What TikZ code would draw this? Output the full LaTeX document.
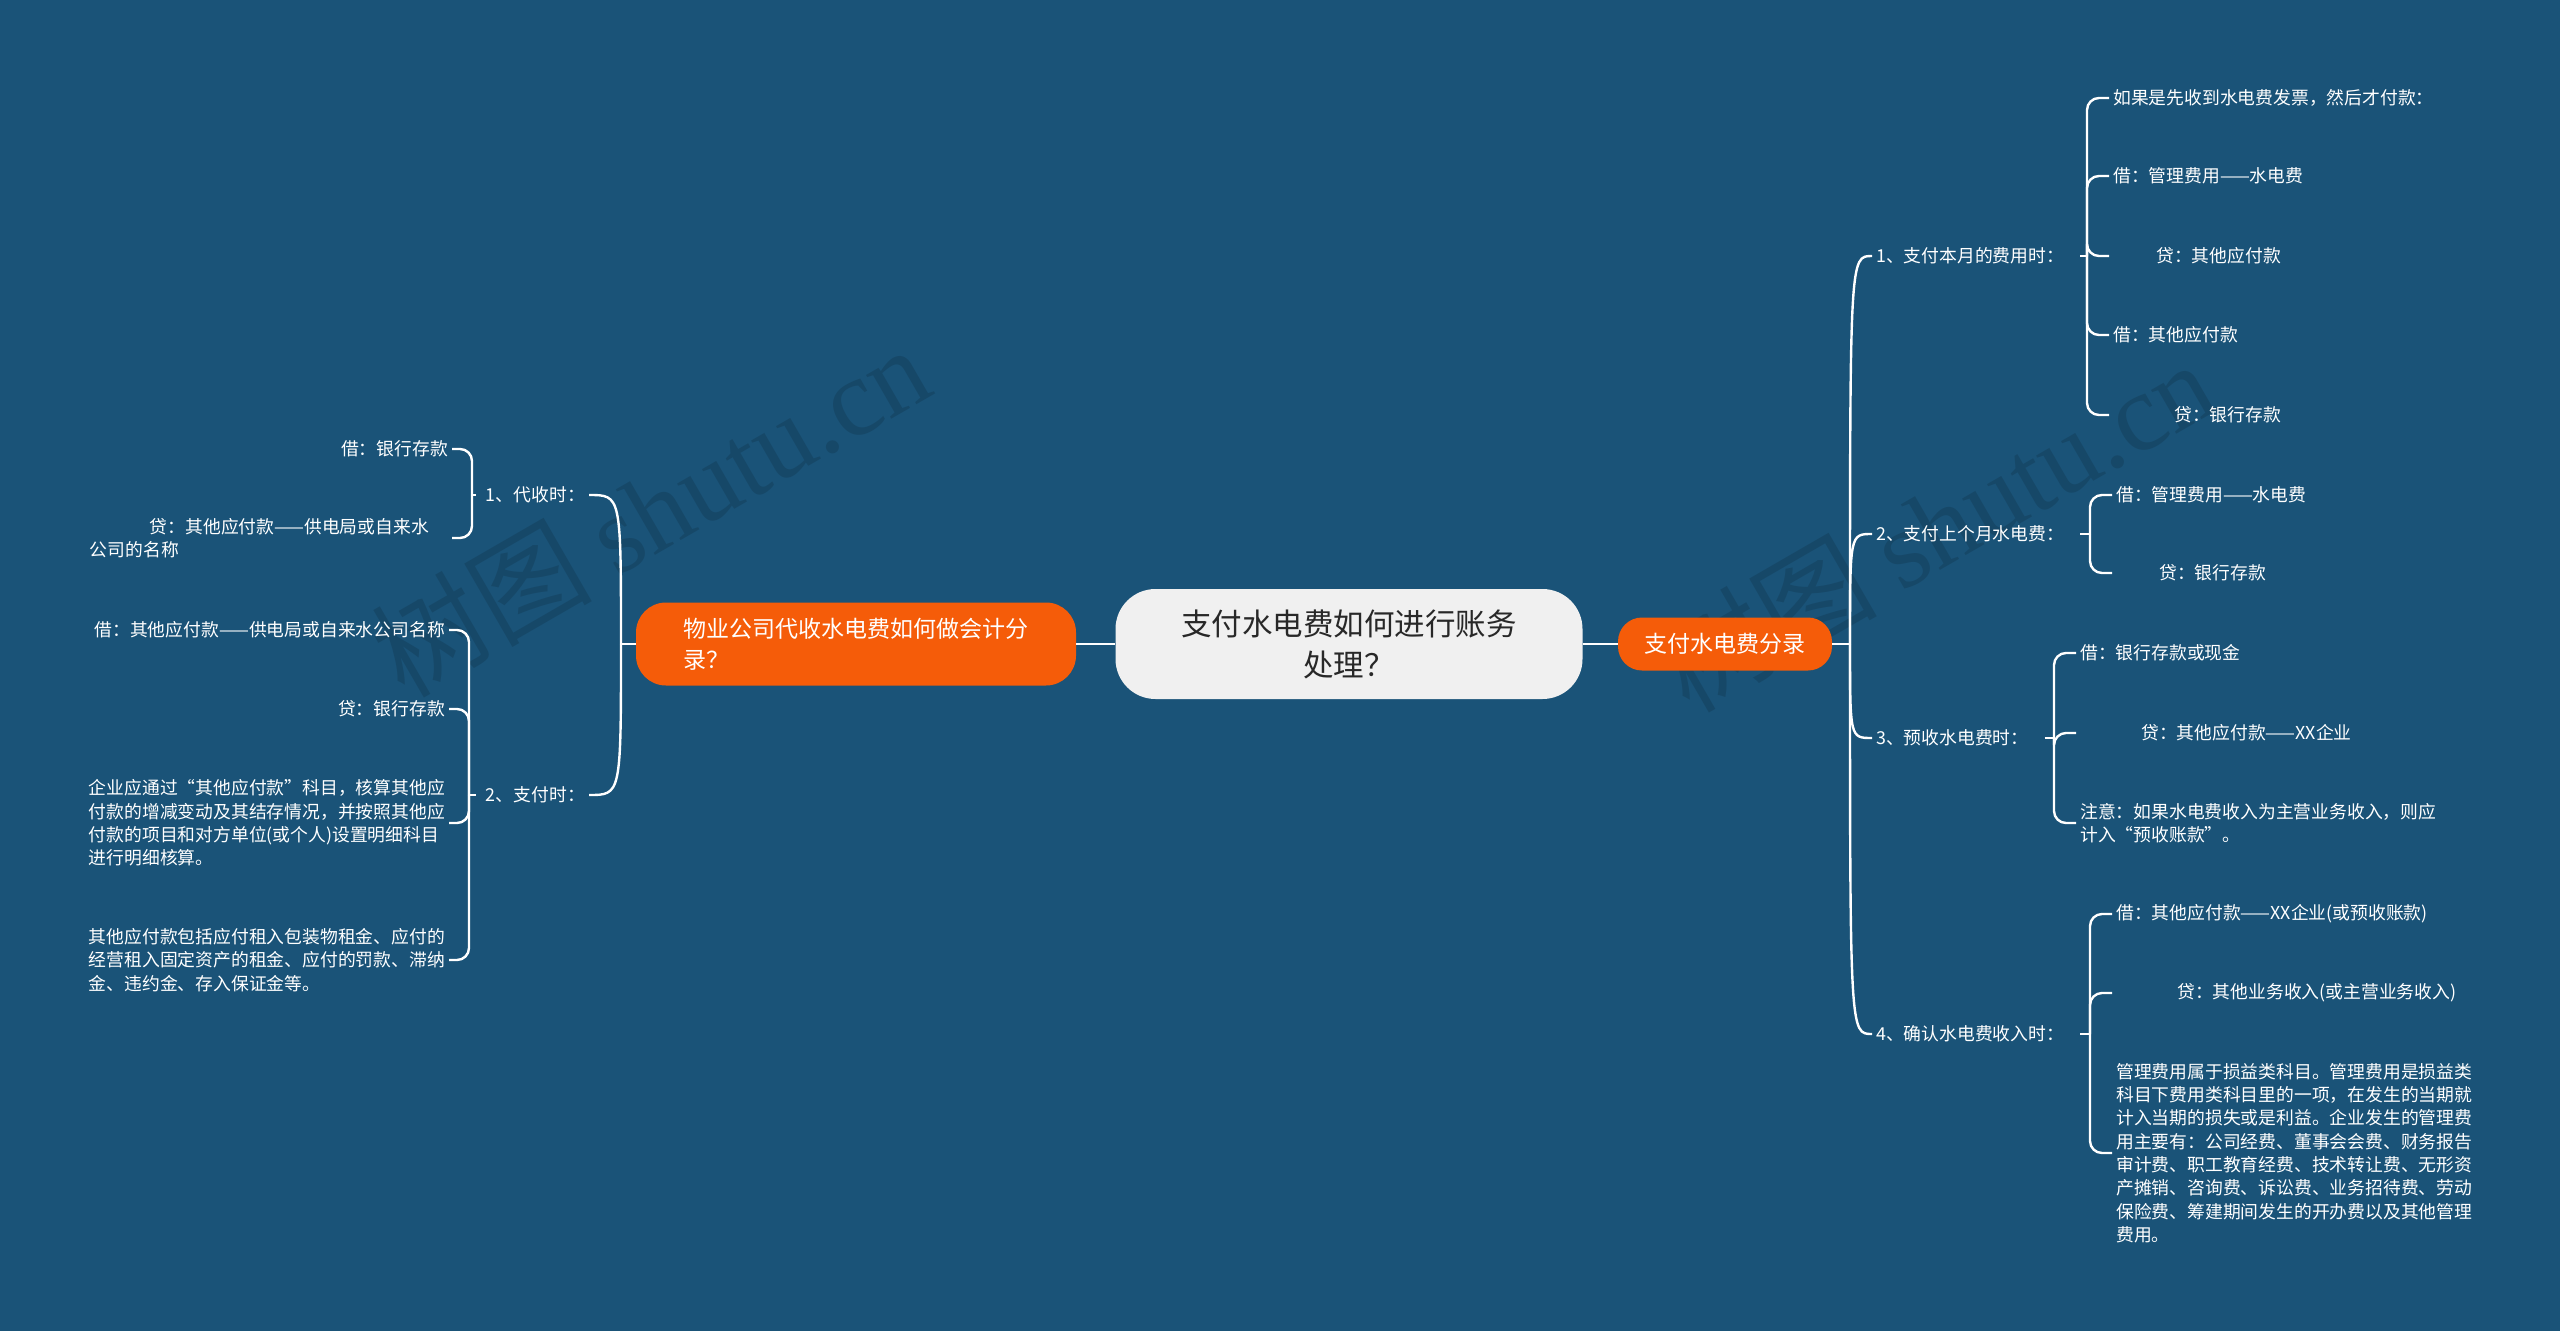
\documentclass[tikz,border=0pt]{standalone}
\usepackage{fontspec}
\setmainfont{Noto Sans CJK SC}
\newfontfamily\markfont{Liberation Serif}
\usetikzlibrary{positioning}
\definecolor{bgblue}{RGB}{26,83,120}
\definecolor{topicorange}{RGB}{245,92,9}
\definecolor{rootgray}{RGB}{240,240,240}
\definecolor{roottext}{RGB}{40,40,40}
\begin{document}
\begin{tikzpicture}[x=1pt, y=-1pt,
   leaf/.style={text=white, inner sep=4pt, align=left, font=\fontsize{17.8}{23.3}\selectfont},
   link/.style={draw=white, line width=2.4pt},
   brace/.style={link, rounded corners=12pt},
   topic/.style={fill=topicorange, text=white, inner sep=0pt, font=\fontsize{23}{31}\selectfont},
   watermark/.style={text=black, opacity=0.13, rotate=30, font=\fontsize{110}{110}\selectfont}]
   \useasboundingbox (0,0) rectangle (2560,1331);
   \fill[bgblue] (0,0) rectangle (2560,1331);
   \node[watermark] (wmleft) at (650,510) {树图 {\markfont shutu.cn}};
   \node[watermark] (wmright) at (1935,525) {树图 {\markfont shutu.cn}};

   \node[fill=rootgray, text=roottext, rounded corners=40pt, minimum width=467pt, minimum height=110pt,
         align=center, font=\fontsize{30.5}{41}\selectfont] (root) at (1349,644) {支付水电费如何进行账务\\处理？};
   \node[topic, rounded corners=30pt, minimum width=440pt, minimum height=83pt, text width=345pt, align=left]
         (lefttopic) at (856,644) {物业公司代收水电费如何做会计分\\录？};
   \node[topic, rounded corners=24pt, minimum width=214pt, minimum height=53pt] (righttopic) at (1725,644) {支付水电费分录};
   \draw[link] (lefttopic.east) -- (root.west);
   \draw[link] (root.east) -- (righttopic.west);
   \coordinate (rj) at (1850,644);
   \coordinate (lj) at (621,644);
   \draw[link] (righttopic.east) -- (rj);
   \draw[link] (lefttopic.west) -- (lj);

   \node[leaf, anchor=west] (r1) at (1872,256) {1、支付本月的费用时：};
   \node[leaf, anchor=west] (r2) at (1872,534) {2、支付上个月水电费：};
   \node[leaf, anchor=west] (r3) at (1872,738) {3、预收水电费时：};
   \node[leaf, anchor=west] (r4) at (1872,1034) {4、确认水电费收入时：};
   \foreach \n/\y in {r1/256, r2/534, r3/738, r4/1034}
      \draw[link] (rj) .. controls (1850,\y) .. (\n.west);

   \node[leaf, anchor=east] (l1) at (589,495) {1、代收时：};
   \node[leaf, anchor=east] (l2) at (589,795) {2、支付时：};
   \foreach \n/\y in {l1/495, l2/795}
      \draw[link] (lj) .. controls (621,\y) .. (\n.east);

   \coordinate (rb1) at (2087,256);
   \node[leaf, anchor=west] (r1a) at (2109,98) {如果是先收到水电费发票，然后才付款：};
   \node[leaf, anchor=west] (r1b) at (2109,176) {借：管理费用——水电费};
   \node[leaf, anchor=west] (r1c) at (2109,256) {\hspace*{43pt}贷：其他应付款};
   \node[leaf, anchor=west] (r1d) at (2109,335) {借：其他应付款};
   \node[leaf, anchor=west] (r1e) at (2109,415) {\hspace*{61pt}贷：银行存款};
   \draw[link, shorten <=12pt] (r1.east) -- (rb1);
   \foreach \n in {r1a, r1b, r1c, r1d, r1e}
      \draw[brace] (rb1) |- (\n.west);

   \coordinate (rb2) at (2090,534);
   \node[leaf, anchor=west] (r2a) at (2112,495) {借：管理费用——水电费};
   \node[leaf, anchor=west] (r2b) at (2112,573) {\hspace*{43pt}贷：银行存款};
   \draw[link, shorten <=12pt] (r2.east) -- (rb2);
   \foreach \n in {r2a, r2b}
      \draw[brace] (rb2) |- (\n.west);

   \coordinate (rb3) at (2054,738);
   \node[leaf, anchor=west] (r3a) at (2076,653) {借：银行存款或现金};
   \node[leaf, anchor=west] (r3b) at (2076,733) {\hspace*{61pt}贷：其他应付款——XX企业};
   \node[leaf, anchor=west] (r3c) at (2076,823) {注意：如果水电费收入为主营业务收入，则应\\计入“预收账款”。};
   \draw[link, shorten <=12pt] (r3.east) -- (rb3);
   \foreach \n in {r3a, r3b, r3c}
      \draw[brace] (rb3) |- (\n.west);

   \coordinate (rb4) at (2090,1034);
   \node[leaf, anchor=west] (r4a) at (2112,914) {借：其他应付款——XX企业(或预收账款)};
   \node[leaf, anchor=west] (r4b) at (2112,993) {\hspace*{61pt}贷：其他业务收入(或主营业务收入)};
   \node[leaf, anchor=west] (r4c) at (2112,1153) {管理费用属于损益类科目。管理费用是损益类\\科目下费用类科目里的一项，在发生的当期就\\计入当期的损失或是利益。企业发生的管理费\\用主要有：公司经费、董事会会费、财务报告\\审计费、职工教育经费、技术转让费、无形资\\产摊销、咨询费、诉讼费、业务招待费、劳动\\保险费、筹建期间发生的开办费以及其他管理\\费用。};
   \draw[link, shorten <=12pt] (r4.east) -- (rb4);
   \foreach \n in {r4a, r4b, r4c}
      \draw[brace] (rb4) |- (\n.west);

   \coordinate (lb1) at (472,495);
   \node[leaf, anchor=east] (l1a) at (452,449) {借：银行存款};
   \node[leaf, anchor=east, text width=358pt] (l1b) at (452,538) {\hspace*{60pt}贷：其他应付款——供电局或自来水\\公司的名称};
   \draw[link, shorten <=6pt] (l1.west) -- (lb1);
   \foreach \n in {l1a, l1b}
      \draw[brace] (lb1) |- (\n.east);

   \coordinate (lb2) at (469,795);
   \node[leaf, anchor=east] (l2a) at (449,630) {借：其他应付款——供电局或自来水公司名称};
   \node[leaf, anchor=east] (l2b) at (449,709) {贷：银行存款};
   \node[leaf, anchor=east] (l2c) at (449,823) {企业应通过“其他应付款”科目，核算其他应\\付款的增减变动及其结存情况，并按照其他应\\付款的项目和对方单位(或个人)设置明细科目\\进行明细核算。};
   \node[leaf, anchor=east] (l2d) at (449,960) {其他应付款包括应付租入包装物租金、应付的\\经营租入固定资产的租金、应付的罚款、滞纳\\金、违约金、存入保证金等。};
   \draw[link, shorten <=6pt] (l2.west) -- (lb2);
   \foreach \n in {l2a, l2b, l2c, l2d}
      \draw[brace] (lb2) |- (\n.east);
\end{tikzpicture}
\end{document}
